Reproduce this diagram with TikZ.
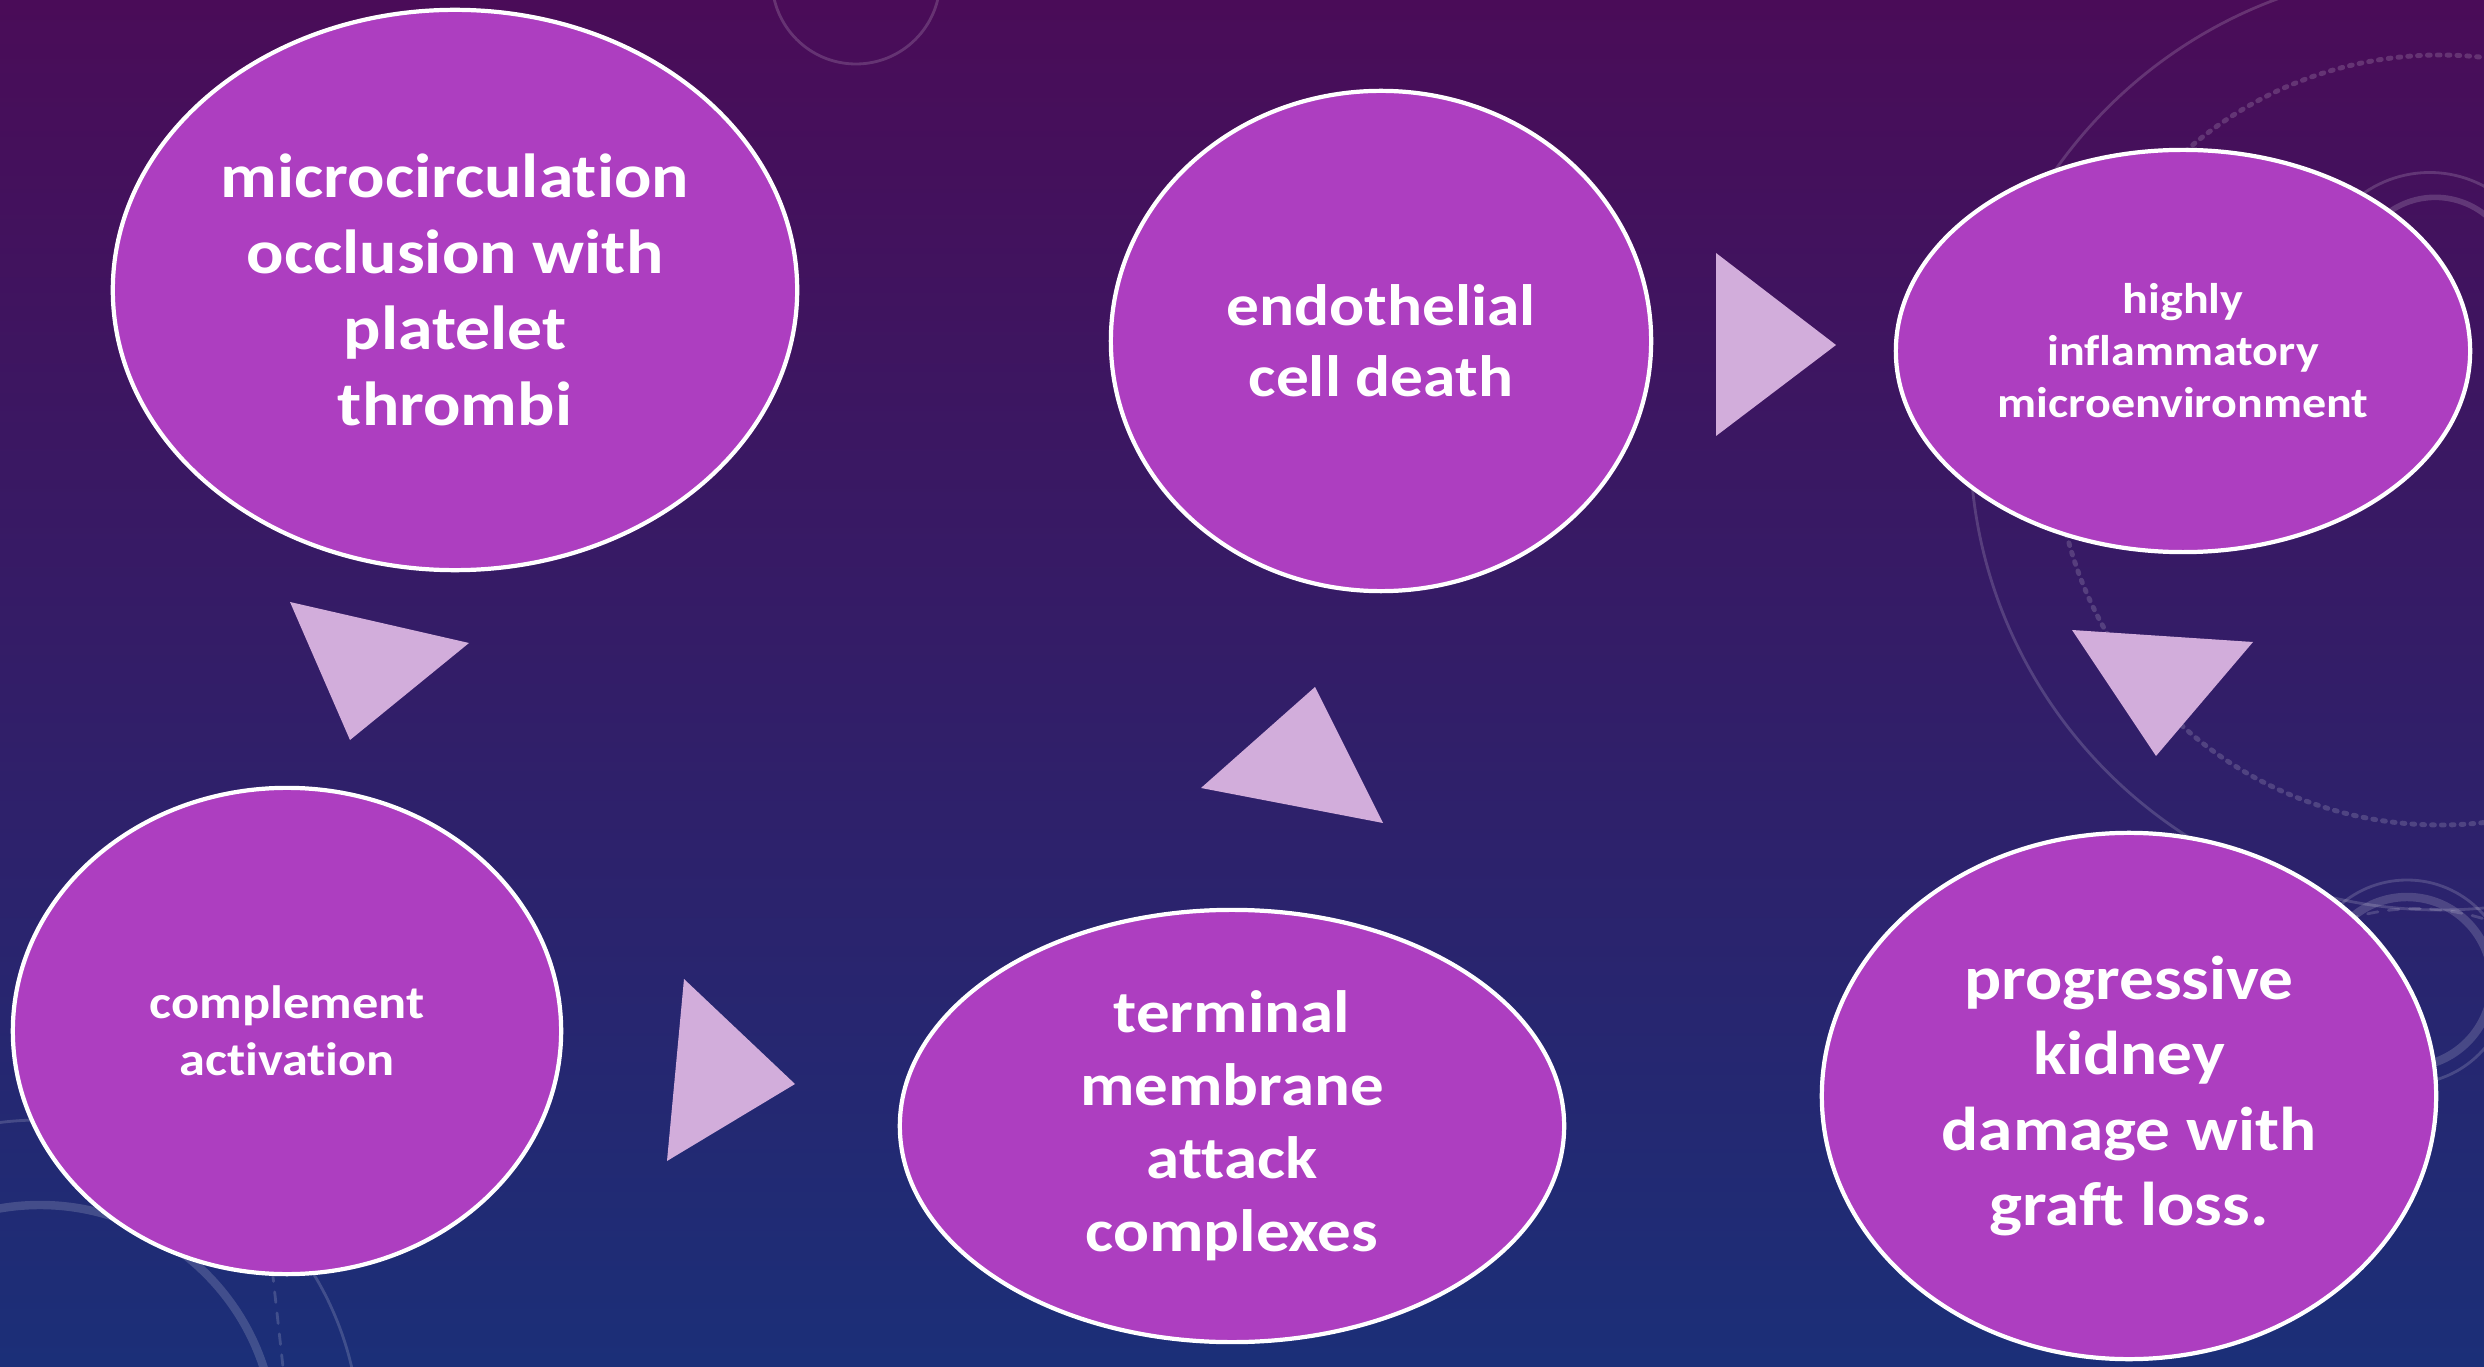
\documentclass[tikz,border=0pt]{standalone}
\usepackage{fontspec}
\setmainfont[FakeStretch=1.12, Ligatures=NoCommon]{Carlito}
\usetikzlibrary{shapes.geometric}
\definecolor{bgtop}{HTML}{4A0C58}
\definecolor{bgmid}{HTML}{2E1D68}
\definecolor{bgbot}{HTML}{1B2F78}
\definecolor{bubble}{HTML}{AD3EC0}
\definecolor{tricol}{HTML}{D2ADDB}
\tikzset{
  stage/.style={ellipse, draw=white, line width=1.2pt, fill=bubble, text=white, align=center, inner sep=0pt},
  tri/.style={fill=tricol},
  hud/.style={draw=white, opacity=0.16, line width=0.8pt}
}
\newcommand{\fsz}[2]{\bfseries\fontsize{#1}{#2}\selectfont}
\begin{document}
\begin{tikzpicture}[x=0.01cm, y=-0.01cm, line join=round, line cap=round]
  \useasboundingbox (0,0) rectangle (2484,1367);
  \shade[top color=bgtop, middle color=bgmid, bottom color=bgbot] (0,0) rectangle (2484,1367);
  % faint dial decoration
  \begin{scope}
    \clip (0,0) rectangle (2484,1367);
    \draw[hud] (856,-20) circle (84);
    \draw[hud, line width=1.6pt] (760,-10) arc (180:330:62);
    \draw[hud] (2440,440) circle (470);
    \draw[hud, dotted, line width=1.4pt] (2440,440) circle (385);
    \draw[hud, line width=1.6pt] (2360,250) arc (200:330:80);
    \draw[hud] (2330,230) arc (210:340:115);
    \draw[hud, line width=2.4pt] (2407,982) circle (85);
    \draw[hud] (2407,982) circle (102);
    \draw[hud, dashed] (2200,1060) arc (200:340:230);
    \draw[hud, line width=2.4pt] (40,1440) circle (235);
    \draw[hud] (40,1440) circle (320);
    \draw[hud, dashed] (270,1250) -- (283,1367);
  \end{scope}
  % stages
  \node[stage, minimum width=6.84cm, minimum height=5.60cm, font=\fsz{17.7}{21.6}] (micro) at (455,290) {microcirculation\\occlusion with\\platelet\\thrombi};
  \node[stage, minimum width=5.40cm, minimum height=5.00cm, font=\fsz{16.6}{20.2}] (endo) at (1381,341) {endothelial\\cell death};
  \node[stage, minimum width=5.74cm, minimum height=4.02cm, font=\fsz{12.2}{14.8}] (inflam) at (2183,351) {highly\\inflammatory\\microenvironment};
  \node[stage, minimum width=5.48cm, minimum height=4.86cm, font=\fsz{13.3}{16.2}] (compl) at (287,1031) {complement\\activation};
  \node[stage, minimum width=6.64cm, minimum height=4.32cm, font=\fsz{17.0}{20.8}] (mac) at (1232,1126) {terminal\\membrane\\attack\\complexes};
  \node[stage, minimum width=6.14cm, minimum height=5.26cm, font=\fsz{17.6}{21.5}] (graft) at (2129,1096) {progressive\\kidney\\damage with\\graft loss.};
  % pointers
  \fill[tri] (290,602) -- (469,643) -- (350,740) -- cycle;
  \fill[tri] (684,979) -- (795,1084) -- (667,1161) -- cycle;
  \fill[tri] (1315,687) -- (1383,823) -- (1201,788) -- cycle;
  \fill[tri] (1716,253) -- (1836,345) -- (1716,436) -- cycle;
  \fill[tri] (2072,630) -- (2253,642) -- (2156,756) -- cycle;
\end{tikzpicture}
\end{document}
